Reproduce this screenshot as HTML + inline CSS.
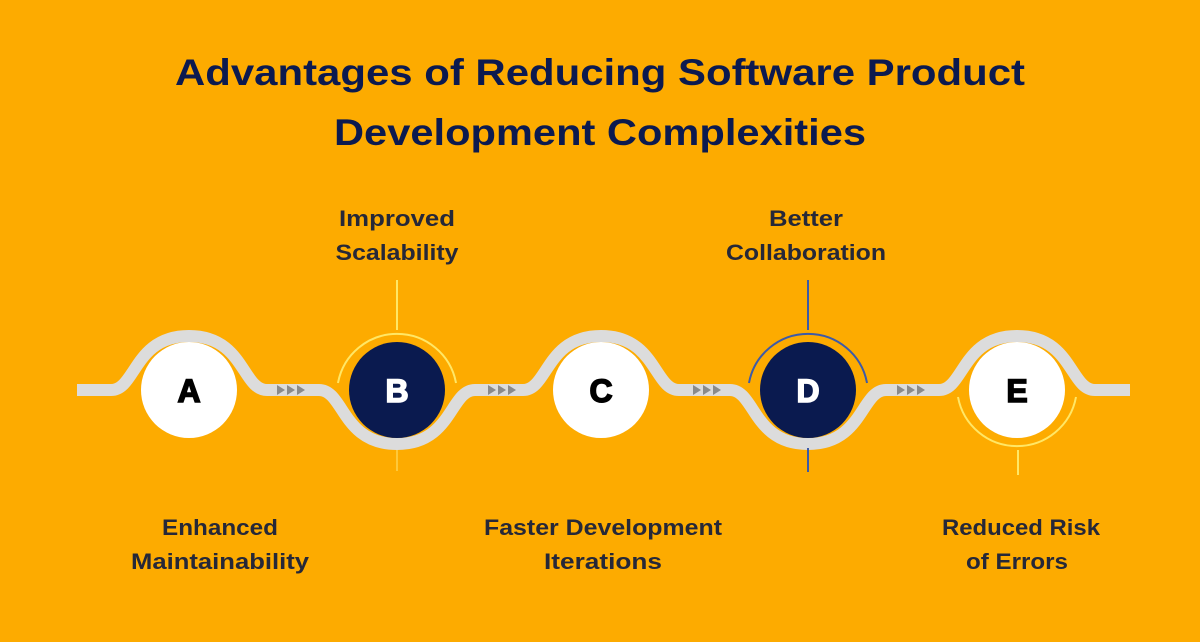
<!DOCTYPE html>
<html><head><meta charset="utf-8"><style>
html,body{margin:0;padding:0;background:#fdab00;}
svg{display:block;}
</style></head><body>
<svg width="1200" height="642" viewBox="0 0 1200 642" xmlns="http://www.w3.org/2000/svg">
<rect width="1200" height="642" fill="#fdab00"/>
<g font-family="Liberation Sans, sans-serif" font-weight="bold" text-anchor="middle">
<text x="600" y="85" font-size="37" fill="#0c1a4f" textLength="850" lengthAdjust="spacingAndGlyphs">Advantages of Reducing Software Product</text>
<text x="600" y="145" font-size="37" fill="#0c1a4f" textLength="532" lengthAdjust="spacingAndGlyphs">Development Complexities</text>
<g font-size="22" fill="#262838">
<text x="397" y="226" textLength="116" lengthAdjust="spacingAndGlyphs">Improved</text>
<text x="397" y="260" textLength="123" lengthAdjust="spacingAndGlyphs">Scalability</text>
<text x="806" y="226" textLength="74" lengthAdjust="spacingAndGlyphs">Better</text>
<text x="806" y="260" textLength="160" lengthAdjust="spacingAndGlyphs">Collaboration</text>
<text x="220" y="535" textLength="116" lengthAdjust="spacingAndGlyphs">Enhanced</text>
<text x="220" y="569" textLength="178" lengthAdjust="spacingAndGlyphs">Maintainability</text>
<text x="603" y="535" textLength="238" lengthAdjust="spacingAndGlyphs">Faster Development</text>
<text x="603" y="569" textLength="118" lengthAdjust="spacingAndGlyphs">Iterations</text>
<text x="1021" y="535" textLength="158" lengthAdjust="spacingAndGlyphs">Reduced Risk</text>
<text x="1017" y="569" textLength="102" lengthAdjust="spacingAndGlyphs">of Errors</text>
</g>
</g>
<path d="M77,390 H111 C136,390 134,336 189,336 C244,336 242,390 267,390 H319 C344,390 342,444 397,444 C452,444 450,390 475,390 H523 C548,390 546,336 601,336 C656,336 654,390 679,390 H730 C755,390 753,444 808,444 C863,444 861,390 886,390 H939 C964,390 962,336 1017,336 C1072,336 1070,390 1095,390 H1130" fill="none" stroke="#dcdcdc" stroke-width="12"/>
<g fill="#8a8a8a">
<path d="M277,385 l8,5 l-8,5z M287,385 l8,5 l-8,5z M297,385 l8,5 l-8,5z"/>
<path d="M488,385 l8,5 l-8,5z M498,385 l8,5 l-8,5z M508,385 l8,5 l-8,5z"/>
<path d="M693,385 l8,5 l-8,5z M703,385 l8,5 l-8,5z M713,385 l8,5 l-8,5z"/>
<path d="M897,385 l8,5 l-8,5z M907,385 l8,5 l-8,5z M917,385 l8,5 l-8,5z"/>
</g>
<path d="M338,383 A60,60 0 0 1 456,383" fill="none" stroke="#ffe766" stroke-width="2"/>
<line x1="397" y1="280" x2="397" y2="330" stroke="#ffe766" stroke-width="2"/>
<line x1="397" y1="450" x2="397" y2="471" stroke="#ffd24d" stroke-width="1.5"/>
<path d="M749,383 A60,60 0 0 1 867,383" fill="none" stroke="#3d5aa8" stroke-width="2"/>
<line x1="808" y1="280" x2="808" y2="330" stroke="#3d5aa8" stroke-width="2"/>
<line x1="808" y1="448" x2="808" y2="472" stroke="#3d5aa8" stroke-width="2"/>
<path d="M958,397 A60,60 0 0 0 1076,397" fill="none" stroke="#ffe766" stroke-width="2"/>
<line x1="1018" y1="450" x2="1018" y2="475" stroke="#ffe766" stroke-width="2"/>
<circle cx="189" cy="390" r="48" fill="#ffffff"/>
<circle cx="397" cy="390" r="48" fill="#0a1a4f"/>
<circle cx="601" cy="390" r="48" fill="#ffffff"/>
<circle cx="808" cy="390" r="48" fill="#0a1a4f"/>
<circle cx="1017" cy="390" r="48" fill="#ffffff"/>
<g font-family="Liberation Sans, sans-serif" font-weight="bold" font-size="32" text-anchor="middle">
<text x="189" y="402" fill="#000" stroke="#000" stroke-width="1.5">A</text>
<text x="397" y="402" fill="#fff" stroke="#fff" stroke-width="1.5">B</text>
<text x="601" y="402" fill="#000" stroke="#000" stroke-width="1.5">C</text>
<text x="808" y="402" fill="#fff" stroke="#fff" stroke-width="1.5">D</text>
<text x="1017" y="402" fill="#000" stroke="#000" stroke-width="1.5">E</text>
</g>
</svg>
</body></html>
